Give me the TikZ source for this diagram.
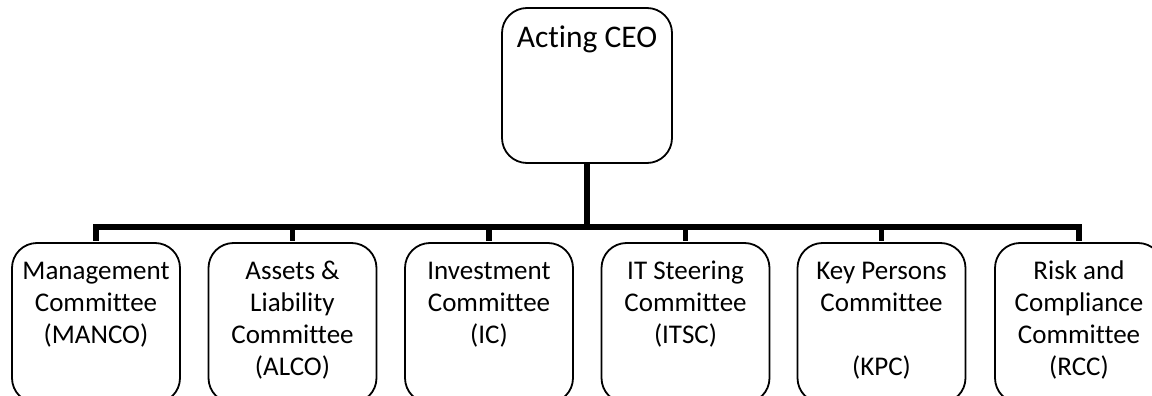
\documentclass[tikz,border=0pt]{standalone}
\usepackage{fontspec}
\setmainfont[Ligatures={NoCommon}]{Carlito}
\begin{document}
\begin{tikzpicture}[x=1pt,y=-1pt,
  box/.style={draw=black, line width=1.8pt, rounded corners=25pt, fill=white, inner sep=0pt},
  cbox/.style={box, minimum width=168pt, minimum height=160pt},
  conn/.style={draw=black, line width=5.5pt, line join=miter},
  ctext/.style={anchor=base, align=center, inner sep=0pt, font=\fontsize{27}{32}\selectfont},
  ceotext/.style={anchor=base, align=center, inner sep=0pt, font=\fontsize{31.5}{36}\selectfont}]
\useasboundingbox (0,0) rectangle (1152,396);
\clip (0,0) rectangle (1152,396);
\node[box, minimum width=170pt, minimum height=155pt] (ceo) at (587,85.5) {};
\node[ceotext] (ceot) at (587,48) {Acting CEO};
\node[cbox] (c1) at (96,323) {};
\node[cbox] (c2) at (292.5,323) {};
\node[cbox] (c3) at (489,323) {};
\node[cbox] (c4) at (685.5,323) {};
\node[cbox] (c5) at (881.5,323) {};
\node[cbox] (c6) at (1079,323) {};
% anchor=base refers to the last line's baseline
\node[ctext] (t1) at (96,343) {Management\\Committee\\(MANCO)};
\node[ctext] (t2) at (292.5,375) {Assets \&\\Liability\\Committee\\(ALCO)};
\node[ctext] (t3) at (489,343) {Investment\\Committee\\(IC)};
\node[ctext] (t4) at (685.5,343) {IT Steering\\Committee\\(ITSC)};
\node[ctext] (t5) at (881.5,375) {Key Persons\\Committee\\\strut\\(KPC)};
\node[ctext] (t6) at (1079,375) {Risk and\\Compliance\\Committee\\(RCC)};
\draw[conn] (ceo.south) -- ++(0,63) coordinate (bus);
\foreach \c in {c1,c2,c3,c4,c5,c6} {
  \draw[conn] (bus) -| ([yshift=0.9pt]\c.north);
}
\end{tikzpicture}
\end{document}
